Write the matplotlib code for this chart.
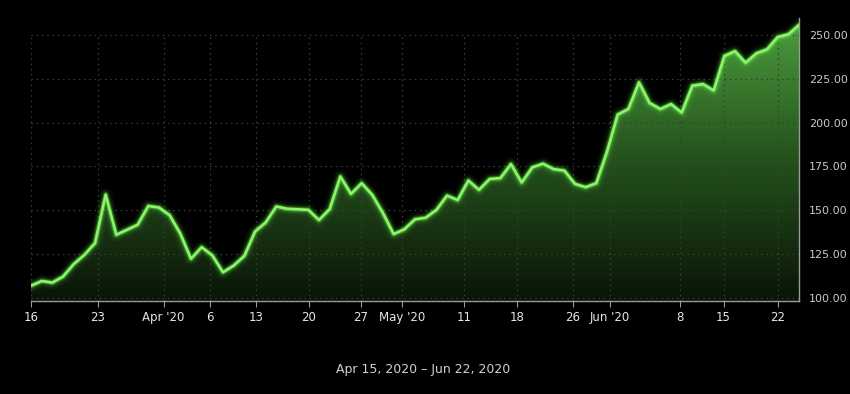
import numpy as np
import matplotlib
matplotlib.use("Agg")
import matplotlib.pyplot as plt
from matplotlib.colors import LinearSegmentedColormap

# ---- data ----
values = [107.0, 109.7, 108.8, 112.2, 119.3, 124.6, 131.3, 159.0, 136.1, 138.9,
          141.8, 152.5, 151.6, 147.2, 136.7, 122.4, 129.0, 124.3, 114.7, 118.5,
          124.0, 137.9, 143.1, 152.2, 150.9, 150.6, 150.3, 144.5, 150.7, 169.3,
          159.4, 165.5, 158.8, 148.4, 136.5, 139.2, 144.9, 145.8, 150.2, 158.4,
          155.9, 167.0, 161.7, 167.9, 168.4, 176.4, 165.9, 174.5, 176.6, 173.5,
          172.7, 165.1, 163.2, 165.5, 183.5, 204.6, 207.8, 223.0, 211.2, 207.8,
          210.6, 205.8, 221.1, 222.0, 218.4, 238.0, 240.8, 234.2, 239.5, 241.8,
          248.8, 250.4, 255.7]
tick_labels = ["16", "23", "Apr '20", "6", "13", "20", "27", "May '20",
               "11", "18", "26", "Jun '20", "8", "15", "22"]
tick_index = [0.0, 6.27, 12.43, 16.78, 21.13, 26.03, 30.93, 34.8,
              40.63, 45.55, 50.78, 54.3, 60.8, 64.93, 70.03]
y_ticks = [100, 125, 150, 175, 200, 225, 250]
range_label = "Apr 15, 2020 – Jun 22, 2020"

x = np.arange(len(values))
y = np.array(values)

fig = plt.figure(figsize=(8.5, 3.94), dpi=100, facecolor="black")
ax = fig.add_axes([31/850, 1-301/394, (799-31)/850, (301-18.3)/394])
ax.set_facecolor("black")
ymin, ymax = 98.3, 259.5
ax.set_xlim(0, len(values)-1)
ax.set_ylim(ymin, ymax)

# gradient fill
cmap = LinearSegmentedColormap.from_list("g", [(0.04, 0.08, 0.03), (0.14, 0.32, 0.11), (0.30, 0.62, 0.24)])
grad = np.linspace(0, 1, 256).reshape(-1, 1)
poly = ax.fill_between(x, y, ymin, color="none", lw=0)
im = ax.imshow(grad, aspect="auto", cmap=cmap, origin="lower",
               extent=[0, len(values)-1, ymin, 260], zorder=1)
path = poly.get_paths()[0]
im.set_clip_path(path, transform=ax.transData)

# grid
for yt in y_ticks:
    ax.axhline(yt, color="#3c3c3c", lw=0.9, ls=(0, (1.2, 3)), zorder=2)
ax.vlines(tick_index, ymin, 250, color="#3c3c3c", lw=0.9, ls=(0, (1.2, 3)), zorder=2)

# glowing line
for lw, a in [(10, 0.04), (7, 0.07), (5, 0.13), (3.4, 0.3)]:
    ax.plot(x, y, color="#6dff4a", lw=lw, alpha=a, solid_joinstyle="round",
            solid_capstyle="round", zorder=3)
ax.plot(x, y, color="#8df56c", lw=1.9, solid_joinstyle="round", zorder=4)

# axes styling
for s in ["left", "top"]:
    ax.spines[s].set_visible(False)
ax.spines["bottom"].set_color("#9a9a9a")
ax.spines["right"].set_color("#9a9a9a")
ax.spines["bottom"].set_linewidth(1.0)
ax.spines["right"].set_linewidth(1.0)
ax.yaxis.tick_right()
ax.set_yticks(y_ticks)
ax.set_yticklabels([f"{v:.2f}" for v in y_ticks])
ax.tick_params(axis="y", length=0, pad=7, labelsize=8, labelcolor="#c8c8c8")
ax.set_xticks(tick_index)
ax.set_xticklabels(tick_labels)
ax.tick_params(axis="x", length=4, width=0.8, color="#9a9a9a", pad=3,
               labelsize=8.5, labelcolor="#e6e6e6")

fig.text(423/850, 1-369/394, range_label, ha="center", va="center",
         color="#d0d0d0", fontsize=9)

fig.savefig("out.png", dpi=100, facecolor="black")
